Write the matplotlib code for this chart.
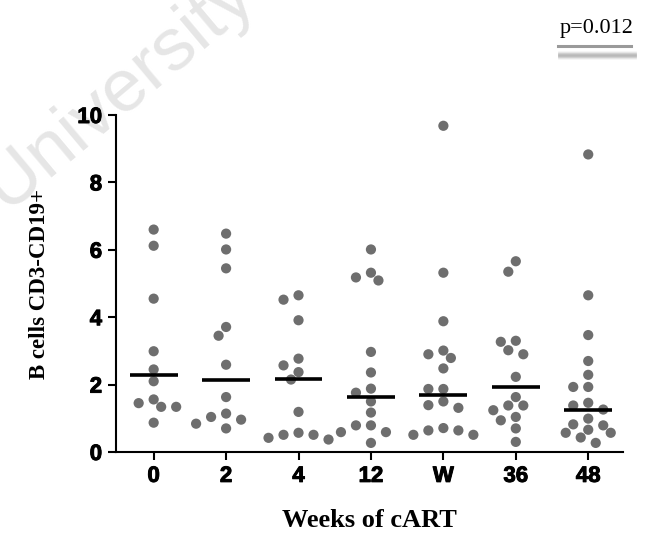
import numpy as np
import matplotlib
matplotlib.use('Agg')
import matplotlib.pyplot as plt
import matplotlib.patheffects as pe

# data ------------
weeks = ['0', '2', '4', '12', 'W', '36', '48']
wk0 = [6.60, 6.12, 4.55, 2.99, 2.45, 2.10, 1.56, 1.45, 1.34, 1.34, 0.87]
wk2 = [6.48, 6.01, 5.45, 3.71, 3.45, 2.59, 1.63, 1.14, 1.04, 0.96, 0.84, 0.70]
wk4 = [4.65, 4.52, 3.91, 2.77, 2.57, 2.37, 2.15, 1.19, 0.57, 0.51, 0.51, 0.42, 0.37]
wk12 = [6.01, 5.32, 5.18, 5.09, 2.97, 2.36, 1.88, 1.76, 1.50, 1.17, 0.79, 0.79, 0.59, 0.59, 0.27]
wkW = [9.68, 5.32, 3.88, 3.01, 2.90, 2.79, 2.48, 1.87, 1.87, 1.50, 1.39, 1.31,
       0.71, 0.64, 0.64, 0.51, 0.51]
wk36 = [5.66, 5.35, 3.30, 3.27, 3.02, 2.90, 2.23, 1.63, 1.38, 1.38, 1.24, 1.04, 0.94, 0.70, 0.30]
wk48 = [8.83, 4.65, 3.47, 2.70, 2.29, 1.93, 1.93, 1.46, 1.38, 1.26, 0.99, 0.82, 0.79,
        0.66, 0.57, 0.57, 0.43, 0.27]
groups = [wk0, wk2, wk4, wk12, wkW, wk36, wk48]
medians = [2.28, 2.13, 2.16, 1.63, 1.68, 1.93, 1.26]
p_text = 'p=0.012'

# figure ------------
W_px, H_px = 649, 533
fig = plt.figure(figsize=(W_px / 100, H_px / 100), dpi=100)
ax = fig.add_axes([116 / W_px, 1 - 452 / H_px, (623 - 116) / W_px, (452 - 115) / H_px])
ax.set_xlim(-0.52, 6.48)
ax.set_ylim(0, 10)

# watermark (behind everything)
fig.text(6 / W_px, 1 - 212 / H_px, 'University', rotation=40, rotation_mode='anchor',
         ha='left', va='baseline', fontsize=54, color='#e6e6e6',
         family='Liberation Sans', zorder=-5)

# simple swarm (pixel space) so dots do not overlap
def swarm(vals, xc, d=10.5, step=7.5):
    placed = []
    offs = []
    for v in vals:
        px0, py = ax.transData.transform((xc, v))
        cand = [0]
        for k in range(1, 8):
            cand += [-k * step, k * step]
        for c in cand:
            ok = True
            for (qx, qy) in placed:
                if (px0 + c - qx) ** 2 + (py - qy) ** 2 < d ** 2:
                    ok = False
                    break
            if ok:
                break
        placed.append((px0 + c, py))
        offs.append(ax.transData.inverted().transform((px0 + c, py))[0])
    return offs

for i, vals in enumerate(groups):
    xs = swarm(vals, i)
    ax.scatter(xs, vals, s=54, color='#6e6e6e', edgecolors='none', zorder=3)
    ax.plot([i - 0.33, i + 0.33], [medians[i], medians[i]], color='black',
            lw=2.6, solid_capstyle='butt', zorder=4)

for s in ['top', 'right']:
    ax.spines[s].set_visible(False)
for s in ['left', 'bottom']:
    ax.spines[s].set_linewidth(1.5)
ax.set_xticks(range(len(weeks)))
ax.set_xticklabels(weeks)
ax.set_yticks([0, 2, 4, 6, 8, 10])
ax.tick_params(width=1.5, length=6, labelsize=16, pad=4)
for lab in ax.get_xticklabels() + ax.get_yticklabels():
    lab.set_family('Liberation Sans')
    lab.set_fontweight('bold')
    lab.set_path_effects([pe.withStroke(linewidth=0.7, foreground='black')])
ax.patch.set_alpha(0)

ax.set_xlabel('Weeks of cART', family='Liberation Serif', fontweight='bold',
              fontsize=19, labelpad=16)
ax.set_ylabel('B cells CD3-CD19+', family='Liberation Serif', fontweight='bold',
              fontsize=16.5, labelpad=20)

# p value with underline and soft shadow
fig.text(597 / W_px, 1 - 33 / H_px, p_text, family='Liberation Serif',
         fontsize=16, ha='center', va='baseline')
for k, a in zip(np.linspace(-3, 3, 7), [0.08, 0.15, 0.25, 0.3, 0.25, 0.15, 0.08]):
    fig.add_artist(plt.Line2D([559 / W_px, 635 / W_px], [1 - (55 + k) / H_px] * 2,
                              color='#888888', lw=2.0, alpha=a))
fig.add_artist(plt.Line2D([558 / W_px, 631 / W_px], [1 - 46 / H_px] * 2,
                          color='#9a9a9a', lw=2.2))

fig.savefig('out.png', dpi=100)
